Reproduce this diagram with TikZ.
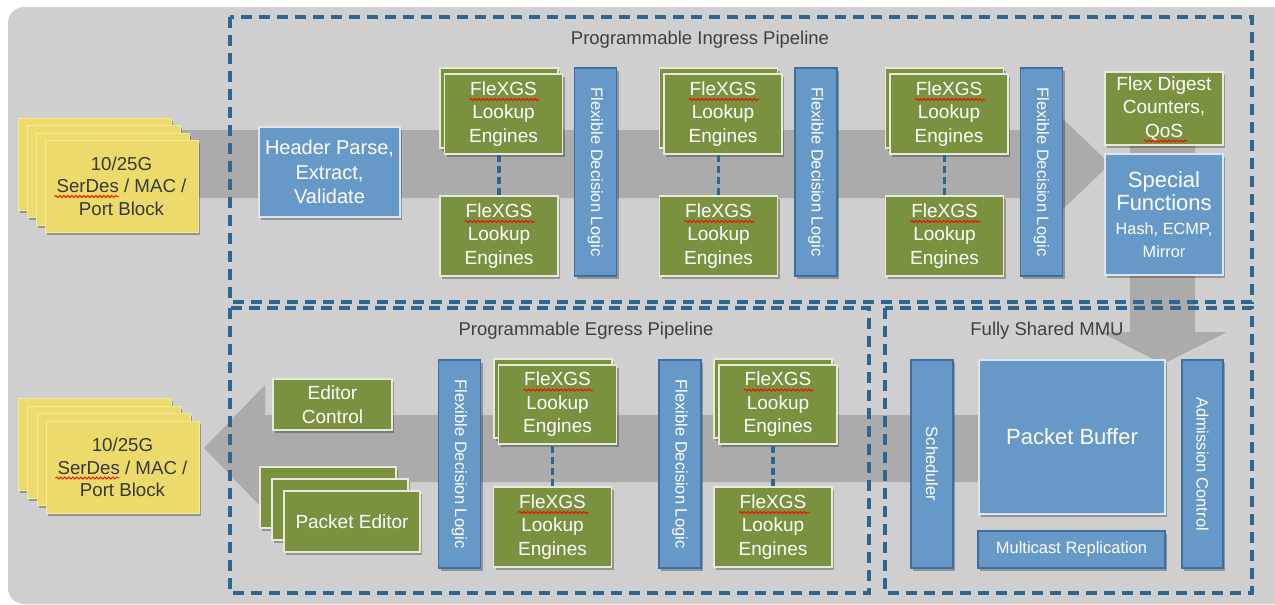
\documentclass[tikz,border=0pt]{standalone}
\usepackage{fontspec}
\setmainfont{Liberation Sans}
\usetikzlibrary{shadows,calc,decorations.pathmorphing}
\definecolor{bgc}{HTML}{CFCFCF}
\definecolor{bandc}{HTML}{ABABAB}
\definecolor{gfill}{HTML}{7A913F}
\definecolor{gline}{HTML}{E6EBD8}
\definecolor{bfill}{HTML}{6699C7}
\definecolor{bdark}{HTML}{3F6F9D}
\definecolor{blight}{HTML}{DCE6F0}
\definecolor{yfill}{HTML}{ECDB6A}
\definecolor{yline}{HTML}{F4EA9C}
\definecolor{ytext}{HTML}{383838}
\definecolor{dashc}{HTML}{2C6790}
\definecolor{titlec}{HTML}{404040}
\newcommand\flx{FleXGS\\Lookup\\Engines}
\newcommand\wav[4]{\draw[wave] ($(#1.center)+(#2,#3)$) -- ++(#4,0);}
\tikzset{
  card/.style={rectangle, inner sep=0pt, align=center,
    drop shadow={shadow xshift=2pt, shadow yshift=-2.5pt, opacity=0.28, fill=black}},
  gbox/.style={card, fill=gfill, draw=gline, line width=1.2pt, text=white,
    font=\fontsize{19}{23.5}\selectfont},
  glook/.style={gbox, minimum width=118pt, minimum height=80pt},
  bbox/.style={card, fill=bfill, draw=bdark, line width=1.2pt, text=white},
  bboxl/.style={card, fill=bfill, draw=blight, line width=1.2pt, text=white},
  tall/.style={bbox, minimum width=42pt, minimum height=208pt},
  ybox/.style={card, fill=yfill, draw=yline, line width=0.8pt, text=ytext,
    font=\fontsize{18.7}{22.5}\selectfont, minimum width=153pt, minimum height=92pt},
  vtext/.style={rotate=-90, text=white, inner sep=0pt, font=\fontsize{16.5}{20}\selectfont},
  area/.style={draw=dashc, line width=3.2pt, dash pattern=on 11pt off 7pt},
  title/.style={text=titlec, inner sep=0pt, font=\fontsize{18.5}{22}\selectfont},
  link/.style={draw=dashc, line width=3.2pt, dash pattern=on 7pt off 4pt},
  wave/.style={draw=red, line width=0.8pt, decorate,
    decoration={snake, amplitude=1.1pt, segment length=4pt}},
}
\begin{document}
\begin{tikzpicture}[x=1pt,y=-1pt]
\useasboundingbox (0,0) rectangle (1275,605);
\fill[white] (0,0) rectangle (1275,605);
\begin{scope}
\clip (0,0) rectangle (1275,605);
\fill[bgc, rounded corners=16pt] (8,7) rectangle (1300,604);
\end{scope}

% flow bands
\fill[bandc] (30,130) -- (1063,130) -- (1063,119) -- (1110,164) -- (1063,209) -- (1063,198) -- (30,198) -- cycle;
\fill[bandc] (1130,140) -- (1195,140) -- (1195,332) -- (1227,332) -- (1163,364) -- (1100,332) -- (1130,332) -- cycle;
\fill[bandc] (1165,415) -- (265,415) -- (265,385) -- (204,448) -- (265,511) -- (265,482) -- (1165,482) -- cycle;

% dashed areas
\draw[area] (230,17) rectangle (1252,302);
\draw[area] (230,308) rectangle (869,593);
\draw[area] (885,308) rectangle (1252,593);
\node[title] (tin) at (700,40) {Programmable Ingress Pipeline};
\node[title] (teg) at (586,331) {Programmable Egress Pipeline};
\node[title] (tmmu) at (1047,331) {Fully Shared MMU};

% ports
\node[ybox] (y1a) at (94.5,164) {};
\node[ybox] (y1b) at (103.5,171) {};
\node[ybox] (y1c) at (112.5,179) {};
\node[ybox] (y1d) at (121.5,186) {10/25G\\SerDes / MAC /\\Port Block};
\node[ybox] (y2a) at (94.5,444.5) {};
\node[ybox] (y2b) at (103.5,452.5) {};
\node[ybox] (y2c) at (113.5,459.5) {};
\node[ybox] (y2d) at (122.5,467.5) {10/25G\\SerDes / MAC /\\Port Block};

% ingress
\node[bboxl, minimum width=141pt, minimum height=90pt, font=\fontsize{20}{24.5}\selectfont] (hdr) at (329.5,172) {Header Parse,\\Extract,\\Validate};

\node[glook] (i1k) at (499,108) {};
\node[glook] (i1f) at (503.5,114) {\flx};
\node[glook] (i1b) at (499,236) {\flx};
\node[tall] (fdl1) at (595.5,172) {};
\node[vtext] (fdl1t) at (fdl1) {Flexible Decision Logic};

\node[glook] (i2k) at (718.5,108) {};
\node[glook] (i2f) at (723,114) {\flx};
\node[glook] (i2b) at (718.5,236) {\flx};
\node[tall] (fdl2) at (816,172) {};
\node[vtext] (fdl2t) at (fdl2) {Flexible Decision Logic};

\node[glook] (i3k) at (944.5,108) {};
\node[glook] (i3f) at (949,114) {\flx};
\node[glook] (i3b) at (944.5,236) {\flx};
\node[tall] (fdl3) at (1041.5,172) {};
\node[vtext] (fdl3t) at (fdl3) {Flexible Decision Logic};

\node[gbox, minimum width=118pt, minimum height=73pt] (dig) at (1164,108.5) {Flex Digest\\Counters,\\QoS};
\node[bboxl, minimum width=118pt, minimum height=121pt, font=\fontsize{16.3}{23.5}\selectfont] (spf) at (1164,214.5)
  {{\fontsize{22}{26}\selectfont Special}\\{\fontsize{22}{26}\selectfont Functions}\\Hash, ECMP,\\Mirror};

\draw[link] (i1b.north) -- (i1b.north |- i1f.south);
\draw[link] (i2b.north) -- (i2b.north |- i2f.south);
\draw[link] (i3b.north) -- (i3b.north |- i3f.south);

% egress
\node[gbox, minimum width=119pt, minimum height=51pt] (edc) at (332.5,404.5) {Editor\\Control};
\node[gbox, minimum width=136pt, minimum height=61pt] (pe1) at (328,497.5) {};
\node[gbox, minimum width=136pt, minimum height=61pt] (pe2) at (340,509.5) {};
\node[gbox, minimum width=136pt, minimum height=61pt] (pe3) at (352,521.5) {Packet Editor};

\node[tall] (efd1) at (459.5,464) {};
\node[vtext] (efd1t) at (efd1) {Flexible Decision Logic};
\node[glook, minimum height=79pt] (e1k) at (553,398.5) {};
\node[glook, minimum height=79pt] (e1f) at (557.5,404.5) {\flx};
\node[glook] (e1b) at (552.5,527) {\flx};

\node[tall] (efd2) at (680,464) {};
\node[vtext] (efd2t) at (efd2) {Flexible Decision Logic};
\node[glook, minimum height=79pt] (e2k) at (773,398.5) {};
\node[glook, minimum height=79pt] (e2f) at (778,404.5) {\flx};
\node[glook] (e2b) at (773,527) {\flx};

\draw[link] (e1b.north) -- (e1b.north |- e1f.south);
\draw[link] (e2b.north) -- (e2b.north |- e2f.south);

% MMU
\node[tall] (sch) at (932,464) {};
\node[vtext] (scht) at (sch) {Scheduler};
\node[bboxl, minimum width=186pt, minimum height=154pt, font=\fontsize{22}{26}\selectfont] (pbuf) at (1072,437) {Packet Buffer};
\node[bbox, minimum width=187pt, minimum height=37pt, font=\fontsize{16.5}{20}\selectfont] (mcr) at (1071.5,549.5) {Multicast Replication};
\node[tall, minimum width=41pt] (adm) at (1202.5,464) {};
\node[vtext] (admt) at (adm) {Admission Control};

% spell-check underlines
\foreach \n in {i1f,i1b,i2f,i2b,i3f,i3b,e1f,e1b,e2f,e2b} {\wav{\n}{-34}{-14.5}{70}}
\wav{y1d}{-67}{10.5}{64}
\wav{y2d}{-67}{10.5}{64}
\wav{dig}{-20}{32.5}{44}
\end{tikzpicture}
\end{document}
